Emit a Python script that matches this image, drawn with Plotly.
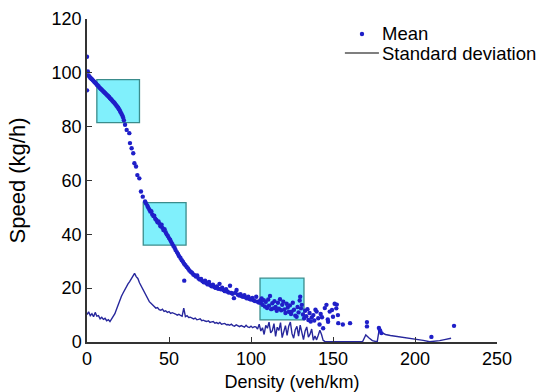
import plotly.graph_objects as go

# ---- data ----
mean_density = [
    0, 0.5, 0, 1, 1.5, 2, 2.5, 3, 3.5, 4, 4.5, 5, 5.5, 6, 6.5, 7, 7.5, 8, 8.5, 9,
    9.5, 10, 10.5, 11, 11.5, 12, 12.5, 13, 13.5, 14, 14.5, 15, 15.5, 16, 16.5, 17,
    17.5, 18, 18.5, 19, 19.5, 20, 20.5, 21, 21.5, 22, 22.5, 23.2, 24.2, 25.8, 26.2,
    27.2, 28.2, 28.9, 29.9, 30.7, 31.9, 32.9, 34, 35.4,
    36, 36.8, 37.3, 38, 38.6, 39.2, 39.8, 40.5, 41, 41.6, 42.3, 43, 43.6, 44.2, 44.8,
    45.5, 46, 46.6, 47.3, 48, 48.6, 49.3, 50, 50.7, 51.3, 52, 52.7, 53.4, 54, 54.8,
    55.5, 56.2, 57, 57.8, 58.5, 59.2, 59.3, 60, 60.8, 61.6, 62.4, 63.2, 64, 64.8,
    65.6, 66.4, 67.2, 68, 68.8, 69.6, 70.4, 71.2, 72, 72.8, 73.6, 74.4, 75.2, 76,
    76.8, 77.6, 78.4, 79.2, 80, 80.8, 81.6, 82.4, 83.2, 84, 84.8, 85.6, 86.4, 87.2,
    88, 88.8, 89.6, 90.4, 91.2, 92, 92.8, 93.6, 94.4, 95.2, 96, 96.8, 97.6, 98.4,
    99.2, 100, 100.8, 101.6, 102.4, 103.2, 104, 104.8, 105.6,
    106, 106.5, 107, 107.8, 108.5, 109, 109.8, 110.5, 111, 111.6, 112.3, 113, 113.6,
    114.3, 115, 115.7, 116.4, 117, 117.7, 118.4, 119, 119.7, 120.4, 121, 121.7,
    122.4, 123, 123.7, 124.4, 124.8, 125.5, 126.2, 127, 127.8, 128.4, 129, 129.7,
    130, 130.5, 131, 131.7, 132.4, 133, 133.7, 134.4, 135, 135.7, 136.4, 137, 138,
    138.6, 139.3, 140, 141, 141.8, 142.5, 143.3, 144, 145, 146, 146.8, 147, 148,
    149.4, 150, 151, 152, 152.3, 153, 153.2, 156, 160.4, 170.7, 170.7, 178, 178.7,
    179.5, 210, 223.8,
]
mean_speed = [
    106, 100.5, 93.5, 99, 98.6, 98.2, 97.9, 97.6, 97.3, 97, 96.6, 96.3, 96, 95.6,
    95.3, 95, 94.6, 94.3, 94, 93.7, 93.4, 93.1, 92.8, 92.5, 92.2, 91.9, 91.6, 91.3,
    91, 90.6, 90.3, 90, 89.6, 89.3, 89, 88.6, 88.2, 87.8, 87.4, 87, 86.5, 86, 85.4,
    84.8, 84.2, 83.4, 82.4, 80.7, 78.8, 77.6, 73.9, 72, 70.1, 66.4, 65.2, 62, 60.8,
    55.9, 54, 52.2,
    51.5, 50.6, 50, 49.2, 48.5, 48.6, 47.4, 46.8, 46.9, 45.8, 45.3, 44.5, 44.8, 43.9,
    43, 43.6, 42.4, 41.6, 41.9, 40.8, 40, 39.4, 38.6, 38, 37.2, 36.4, 35.7, 35, 34.2,
    33.4, 32.7, 31.9, 31.2, 30.4, 29.8, 29.1, 22.8, 28.5, 27.9, 27.3, 26.6, 26.1,
    25.7, 25.1, 24.8, 24.3, 24.7, 23.6, 23.2, 23.4, 22.6, 22.2, 22.8, 21.8, 21.4,
    22.3, 21.1, 20.7, 21.3, 20.4, 20.1, 20.6, 19.8, 21.6, 19.6, 20.2, 19.3, 18.9,
    19.6, 18.7, 18.4, 20.9, 18.2, 17.9, 16.3, 18.3, 19.3, 17.6, 17.3, 17.8, 17, 16.8,
    17.4, 16.5, 16.2, 16.8, 16, 15.8, 16.4, 15.5, 15.2, 16.8, 15, 14.7, 15.4,
    14.6, 16.2, 13.8, 15.5, 13.2, 14.9, 12.6, 15.8, 13.5, 17.1, 12.2, 14.4, 12.5,
    15.2, 13, 11.6, 14.6, 12.4, 15.9, 11.8, 13.8, 15, 12.1, 10.8, 14.2, 12.8, 11.2,
    13.6, 10.4, 11.3, 14.6, 12, 9.8, 9.4, 13, 11, 15.4, 16.8, 12.5, 13.8, 10.2, 8.8,
    11.6, 9.6, 12.2, 8.2, 10.8, 7.6, 9.1, 10, 8, 12, 11.3, 8.8, 6.5, 10.4, 9.2, 5.1,
    12.6, 13.8, 8.4, 7.5, 11.3, 11.9, 9.4, 14.2, 12.5, 13.9, 10, 7, 6.5, 7, 7.4,
    5.8, 5.2, 4.3, 3.3, 1.9, 6,
]

std_density = list(range(0, 146)) + [150, 160, 168, 170, 172, 174, 176, 177, 178,
                                     180, 182, 185, 190, 195, 200, 205, 209, 212,
                                     215, 218, 222]
std_value = [
    10.2, 11.2, 9.8, 10.5, 9.4, 11, 9.6, 9.8, 8.6, 9.2, 8.4, 8.8, 7.9, 8.3, 7.6,
    8.5, 9.2, 10.5, 12.2, 14, 15.5, 17, 18.2, 19.5, 20.5, 21.6, 22.4, 23.5, 24.2,
    25.5, 24.3, 23.6, 22, 20.8, 19.2, 18, 16.8, 16, 15, 14.4, 13.6, 13.2, 12.6,
    12.8, 12, 11.8, 12.2, 11.4, 11.6, 11, 11.3, 10.6, 10.9, 10.7, 10.4, 10, 10.3,
    9.9, 9.6, 12.6, 9.4, 9.8, 9.1, 9.2, 8.9, 8.6, 8.9, 8.3, 8.4, 8.6, 7.9, 8.1, 7.8,
    7.6, 7.9, 7.3, 7.5, 7.6, 7.0, 7.2, 6.8, 7.3, 6.6, 6.8, 6.9, 6.4, 6.5, 6.2, 6.6,
    6.1, 5.9, 6.4, 6.0, 5.7, 6.1, 5.8, 5.5, 6.2, 5.6, 5.4, 5.9, 5.3, 5.7,
    5.6, 4.8, 6.6, 4.1, 5.3, 2.8, 6.2, 5.1, 7.4, 3.4, 4.2, 6.8, 2.1, 5.5, 4.3, 7.2,
    1.6, 3.8, 6.1, 2.5, 5.9, 7.4, 3.1, 1.4, 4.6, 5.8, 2.2, 6.3, 3.5, 0.9, 4.1, 5.6,
    1.8, 2.9, 4.8, 0.7, 2.2,
    0.8, 2.5, 4.4, 2.8, 0.6, 0.2,
    0.1, 0.1, 0.1, 2.6, 1.5, 0.5, 0.2, 0.2, 4, 3.4, 2.8, 2.4, 2, 1.5, 1, 0.6, 0.1,
    0.2, 0.5, 0.9, 1.4,
]

# highlighted regions (x0, x1, y0, y1)
box_x0 = [6, 34.3, 105.5]
box_x1 = [32, 60.4, 132.3]
box_y0 = [81.5, 36, 8.2]
box_y1 = [97.5, 51.8, 23.7]

x_ticks = [0, 50, 100, 150, 200, 250]
y_ticks = [0, 20, 40, 60, 80, 100, 120]

legend_labels = ["Mean", "Standard deviation"]

MARK = "#1f1fc8"
LINE = "#27279c"
FONT = "Liberation Sans"

fig = go.Figure()

for a, b, c, d in zip(box_x0, box_x1, box_y0, box_y1):
    fig.add_shape(type="rect", x0=a, x1=b, y0=c, y1=d, xref="x", yref="y",
                  fillcolor="#80f0fc", line=dict(color="#3a8c8c", width=1.3),
                  layer="below")

fig.add_trace(go.Scatter(x=std_density, y=std_value, mode="lines",
                         name=legend_labels[1],
                         line=dict(color=LINE, width=1.4), showlegend=False))
fig.add_trace(go.Scatter(x=mean_density, y=mean_speed, mode="markers",
                         name=legend_labels[0],
                         marker=dict(color=MARK, size=4.4, line=dict(width=0)),
                         showlegend=False))

# hand-placed legend (paper coordinates)
fig.add_shape(type="circle", xref="paper", yref="paper",
              xsizemode="pixel", ysizemode="pixel",
              xanchor=0.6707, yanchor=0.9536, x0=-2.2, x1=2.2, y0=-2.2, y1=2.2,
              fillcolor=MARK, line=dict(width=0))
fig.add_shape(type="line", xref="paper", yref="paper",
              x0=0.629, x1=0.712, y0=0.8947, y1=0.8947,
              line=dict(color="#555555", width=1.5))
fig.add_annotation(text=legend_labels[0], xref="paper", yref="paper",
                   x=0.7146, y=0.9536, xanchor="left", yanchor="middle",
                   showarrow=False, font=dict(size=18.5))
fig.add_annotation(text=legend_labels[1], xref="paper", yref="paper",
                   x=0.7146, y=0.8947, xanchor="left", yanchor="middle",
                   showarrow=False, font=dict(size=18.5))

fig.update_layout(
    width=541, height=392,
    margin=dict(l=87, r=44, t=19, b=50),
    paper_bgcolor="white", plot_bgcolor="white",
    font=dict(family=FONT, size=18, color="black"),
    showlegend=False,
)
fig.update_xaxes(range=[0, 250], tickvals=x_ticks, ticks="inside", ticklen=5,
                 tickcolor="#333", showline=True, linecolor="#333", linewidth=1.5,
                 showgrid=False, zeroline=False, mirror=False, automargin=False,
                 title=dict(text="Density (veh/km)", standoff=8, font=dict(size=18)))
fig.update_yaxes(range=[0, 120], tickvals=y_ticks, ticks="inside", ticklen=5,
                 tickcolor="#333", showline=True, linecolor="#333", linewidth=1.5,
                 showgrid=False, zeroline=False, mirror=False, automargin=False,
                 title=dict(text="Speed (kg/h)", standoff=20))

fig.write_html("out.html", config={"displayModeBar": False},
               post_script="document.body.style.margin='0';document.body.style.overflow='hidden';")
